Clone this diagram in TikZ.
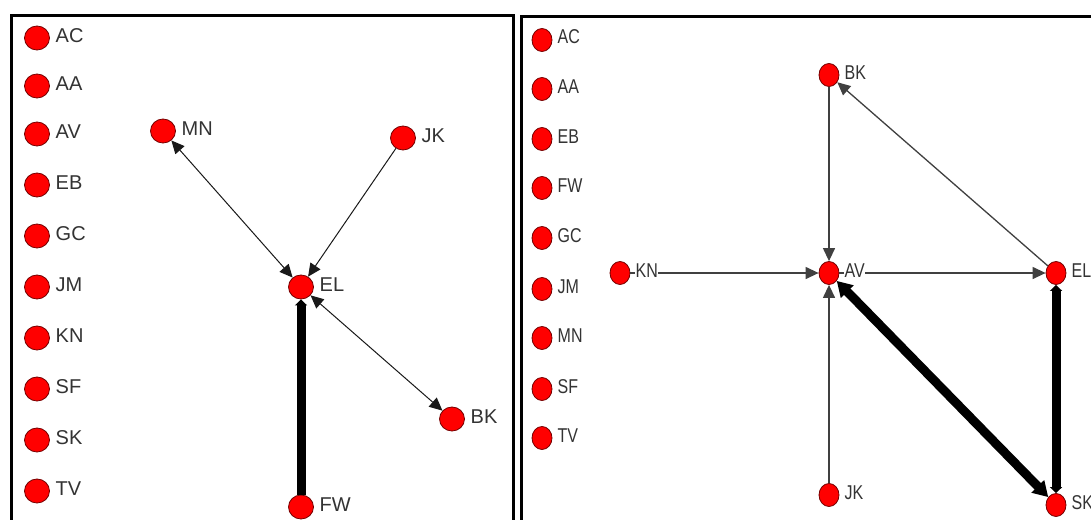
\documentclass[tikz,border=0pt]{standalone}
\usepackage{fontspec}
\setmainfont{Liberation Sans}
\usetikzlibrary{arrows.meta,shapes.geometric}

\begin{document}
\begin{tikzpicture}[x=1pt,y=-1pt,
  actL/.style={ellipse, fill=red, draw=red!45!black, line width=0.8pt,
               minimum width=25pt, minimum height=24pt, inner sep=0pt},
  actR/.style={actL, minimum width=20pt, minimum height=23pt},
  name tag/.style={anchor=base west, inner sep=0.5pt, fill=white, text=black!80,
                   font=\fontsize{20}{20}\selectfont},
  tieL/.style={line width=1pt, draw=black!90},
  tieR/.style={line width=1.3pt, draw=black!75},
  heavyTie/.style={line width=9pt, draw=black},
  headed/.style={-{Triangle[length=13pt,width=12pt]}},
  bothHeaded/.style={{Triangle[length=13pt,width=12pt]}-{Triangle[length=13pt,width=12pt]}},
  frame/.style={line width=3pt, draw=black}
]
\useasboundingbox (0,0) rectangle (1091,519);
\clip (0,0) rectangle (1091,519);
\fill[white] (0,0) rectangle (1091,519);

% panel frames
\draw[frame] (11.5,540) |- (513,15.5) -- (513,540);
\draw[frame] (521,540) |- (1110,16.5);

% ---------- left network ----------
\node[actL] (L-AC) at (37,38) {};
\node[actL] (L-AA) at (37,86) {};
\node[actL] (L-AV) at (37,134) {};
\node[actL] (L-EB) at (37,185) {};
\node[actL] (L-GC) at (37,236) {};
\node[actL] (L-JM) at (37,287) {};
\node[actL] (L-KN) at (37,338) {};
\node[actL] (L-SF) at (37,389) {};
\node[actL] (L-SK) at (37,440) {};
\node[actL] (L-TV) at (37,491) {};
\node[actL] (L-MN) at (163,131) {};
\node[actL] (L-JK) at (403,138) {};
\node[actL] (L-EL) at (301,287) {};
\node[actL] (L-BK) at (452,419) {};
\node[actL] (L-FW) at (301,507) {};

\draw[tieL, bothHeaded] (L-MN) -- (L-EL);
\draw[tieL, headed] (L-JK) -- (L-EL);
\draw[tieL, bothHeaded] (L-EL) -- (L-BK);
\draw[heavyTie, -{Triangle[length=6pt,width=12pt]}] (L-FW) -- (L-EL);

\foreach \n/\t in {L-AC/AC, L-AA/AA, L-AV/AV, L-EB/EB, L-GC/GC, L-JM/JM,
                   L-KN/KN, L-SF/SF, L-SK/SK, L-TV/TV, L-MN/MN, L-JK/JK,
                   L-EL/EL, L-BK/BK, L-FW/FW}
  \node[name tag] at ([shift={(18,4)}]\n.center) {\t};

% ---------- right network ----------
\node[actR] (R-AC) at (542,40) {};
\node[actR] (R-AA) at (542,89) {};
\node[actR] (R-EB) at (542,139) {};
\node[actR] (R-FW) at (542,188) {};
\node[actR] (R-GC) at (542,238) {};
\node[actR] (R-JM) at (542,289) {};
\node[actR] (R-MN) at (542,338) {};
\node[actR] (R-SF) at (542,389) {};
\node[actR] (R-TV) at (542,438) {};
\node[actR] (R-BK) at (829,75) {};
\node[actR] (R-KN) at (620,273) {};
\node[actR] (R-AV) at (829,273) {};
\node[actR] (R-EL) at (1056,273) {};
\node[actR] (R-SK) at (1056,505) {};
\node[actR] (R-JK) at (829,495) {};

\draw[tieR, headed] (R-BK) -- (R-AV);
\draw[tieR, headed] (R-EL) -- (R-BK);
\draw[tieR, headed] (R-KN) -- (R-AV);
\draw[tieR, headed] (R-AV) -- (R-EL);
\draw[tieR, headed] (R-JK) -- (R-AV);
\draw[heavyTie, {Triangle[length=15pt,width=17pt]}-{Triangle[length=15pt,width=17pt]}] (R-AV) -- (R-SK);
\draw[heavyTie, {Triangle[length=6pt,width=12pt]}-{Triangle[length=6pt,width=12pt]}] (R-EL) -- (R-SK);

\foreach \n/\t in {R-AC/AC, R-AA/AA, R-EB/EB, R-FW/FW, R-GC/GC, R-JM/JM,
                   R-MN/MN, R-SF/SF, R-TV/TV, R-BK/BK, R-KN/KN, R-AV/AV,
                   R-EL/EL, R-SK/SK, R-JK/JK}
  \node[name tag] at ([shift={(15,4)}]\n.center) {\scalebox{0.8}[1]{\t}};
\end{tikzpicture}
\end{document}
